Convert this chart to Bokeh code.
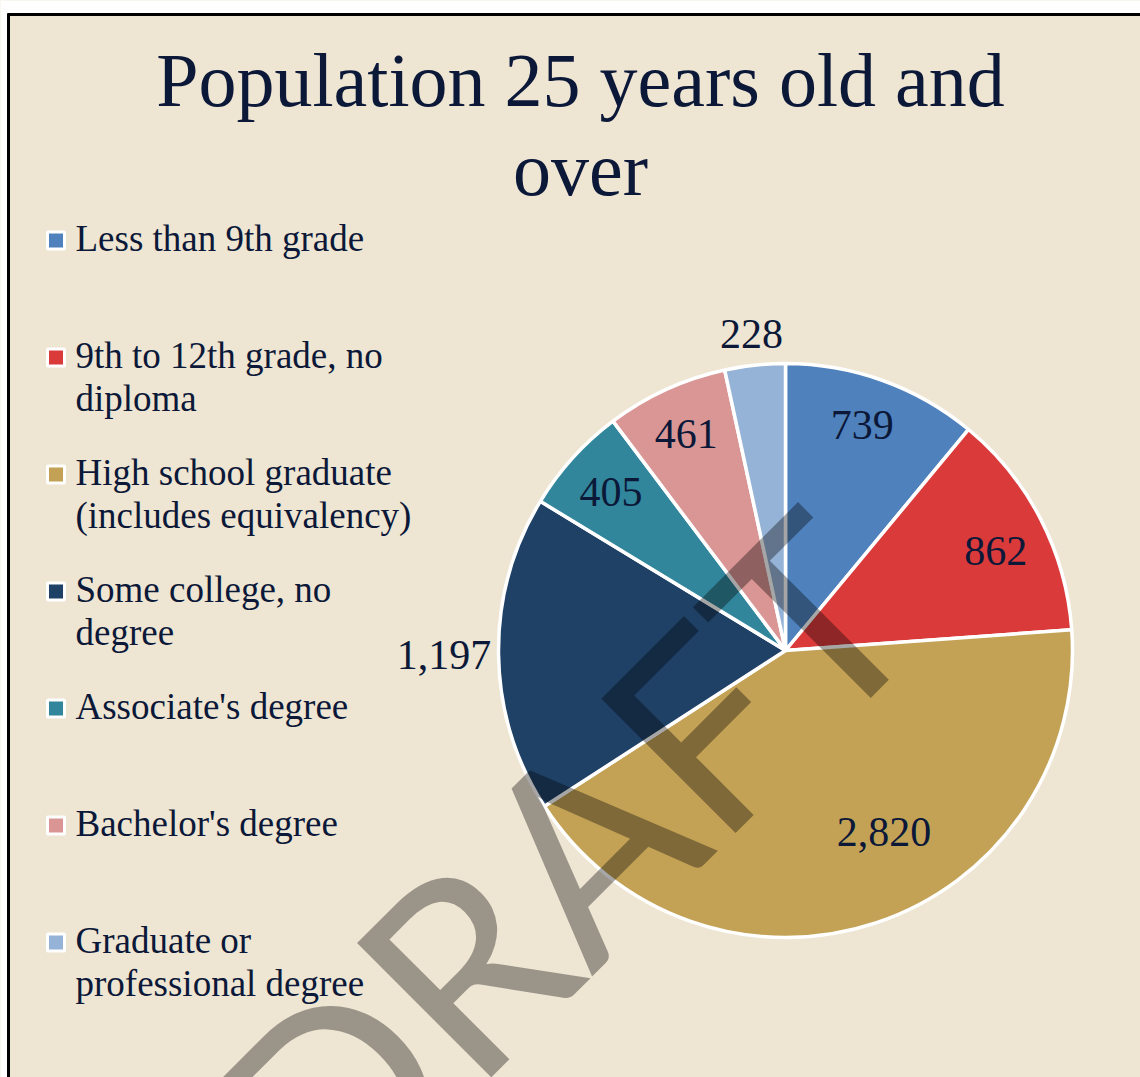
import math
from bokeh.plotting import figure
from bokeh.models import Range1d, ColumnDataSource
from bokeh.core.properties import value
from bokeh.embed import file_html
from bokeh.resources import INLINE

# ---- data ----
categories = ["Less than 9th grade", "9th to 12th grade, no diploma",
              "High school graduate (includes equivalency)", "Some college, no degree",
              "Associate's degree", "Bachelor's degree", "Graduate or professional degree"]
legend_labels = ["Less than 9th grade", "9th to 12th grade, no\ndiploma",
                 "High school graduate\n(includes equivalency)", "Some college, no\ndegree",
                 "Associate's degree", "Bachelor's degree", "Graduate or\nprofessional degree"]
values = [739, 862, 2820, 1197, 405, 461, 228]
value_labels = ["739", "862", "2,820", "1,197", "405", "461", "228"]
colors = ["#4F81BD", "#DB3A3B", "#C3A256", "#1F4166", "#31869B", "#DA9694", "#95B3D7"]
title_text = "Population 25 years old and\nover"
watermark = "DRAFT"

# ---- layout ----
BG = "#EEE5D3"
INK = "#0B1838"
SERIF = "Liberation Serif"
W, H = 1140, 1077


def sx(x):
    return x


def sy(y):
    return H - y


p = figure(width=W, height=H, x_range=Range1d(0, W), y_range=Range1d(0, H),
           output_backend="svg", toolbar_location=None,
           x_axis_type=None, y_axis_type=None, min_border=0,
           background_fill_color=BG, border_fill_color=BG, outline_line_color=None)

# white margin outside the chart box and the box's black edges
p.quad(left=[0], right=[W], bottom=[sy(13)], top=[H], fill_color="white", line_color=None)
p.quad(left=[0], right=[sx(7)], bottom=[0], top=[H], fill_color="white", line_color=None)
p.segment(x0=[sx(7)], y0=[sy(14)], x1=[W], y1=[sy(14)], line_color="black", line_width=3)
p.segment(x0=[sx(8)], y0=[sy(13)], x1=[sx(8)], y1=[0], line_color="black", line_width=3)

# ---- pie ----
cx, cy, R = sx(785), sy(650), 287
total = float(sum(values))
t0, t1, mids = [], [], []
acc = 0.0
for v in values:
    a0 = acc / total * 2 * math.pi
    acc += v
    a1 = acc / total * 2 * math.pi
    t0.append(a0)
    t1.append(a1)
    mids.append((a0 + a1) / 2)

src = ColumnDataSource(dict(
    cat=categories, val=values, color=colors,
    start=[math.pi / 2 - b for b in t1],
    end=[math.pi / 2 - a for a in t0],
))
p.wedge(x=cx, y=cy, radius=R, start_angle="start", end_angle="end",
        fill_color="color", line_color="white", line_width=3.5, source=src)

r_frac = [0.83, 0.81, 0.72, 1.19, 0.82, 0.83, 1.11]
nudge = [-1, 2, -10, 0, 0, 0, 0]
lx, ly = [], []
for m, f, n in zip(mids, r_frac, nudge):
    a = m + math.radians(n)
    lx.append(cx + R * f * math.sin(a))
    ly.append(cy + R * f * math.cos(a))
p.text(x=lx, y=ly, text=value_labels, text_font=value(SERIF), text_font_size="42px",
       text_color=INK, text_align="center", text_baseline="middle")

# ---- title ----
p.text(x=[sx(580)], y=[sy(124)], text=[title_text], text_font=value(SERIF),
       text_font_size="76px", text_color=INK, text_align="center",
       text_baseline="middle", text_line_height=1.05)

# ---- legend ----
row0, step, line_gap = 238, 117, 43
sq_x, sq_y, tx, ty = [], [], [], []
for i, lab in enumerate(legend_labels):
    row = row0 + step * i
    nlines = lab.count("\n") + 1
    sq_x.append(sx(55.5))
    sq_y.append(sy(row + 2))
    tx.append(sx(75))
    ty.append(sy(row + (nlines - 1) * line_gap / 2))
p.rect(x=sq_x, y=sq_y, width=17, height=17, fill_color=colors, line_color="white", line_width=3)
p.text(x=tx, y=ty, text=legend_labels, text_font=value(SERIF), text_font_size="37px",
       text_color=INK, text_align="left", text_baseline="middle", text_line_height=1.05)

# ---- watermark ----
p.text(x=[sx(560)], y=[sy(862)], text=[watermark], angle=math.pi / 4,
       text_font=value("Lato"), text_font_size="265px", text_color="black",
       text_alpha=0.35, text_align="center", text_baseline="alphabetic")

open("out.html", "w").write(file_html(p, INLINE))
